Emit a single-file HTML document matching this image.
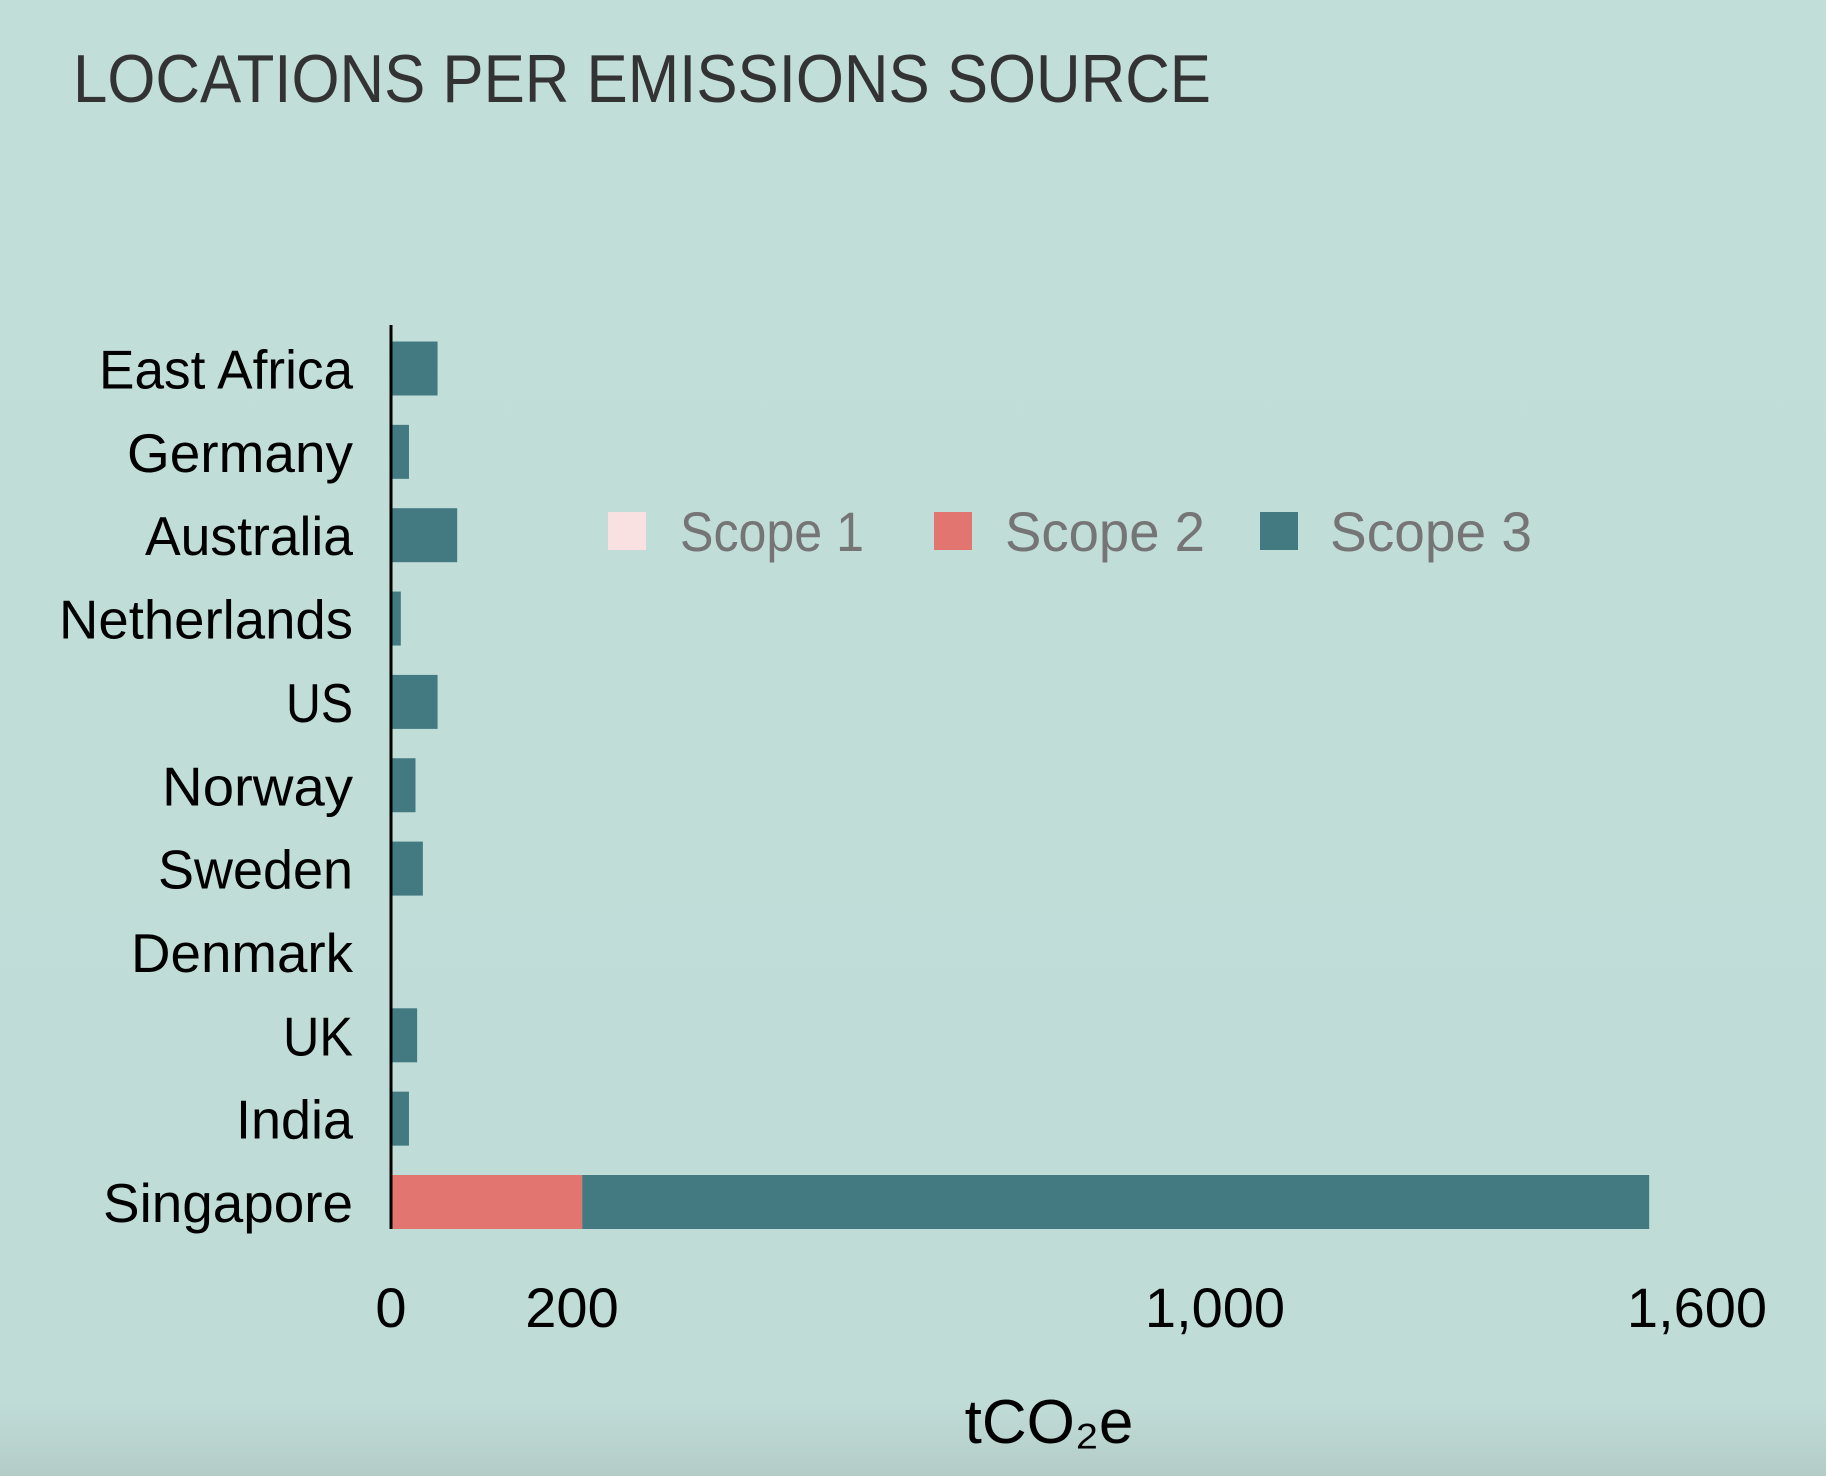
<!DOCTYPE html>
<html><head><meta charset="utf-8"><style>
html,body{margin:0;padding:0}
body{width:1826px;height:1476px;overflow:hidden;background:#c2ded9}
svg{display:block}
text{font-family:"Liberation Sans",sans-serif}
</style></head><body>
<svg id="chart" width="1826" height="1476" viewBox="0 0 1826 1476">
<defs><linearGradient id="bg" x1="0" y1="0" x2="0" y2="1">
<stop offset="0" stop-color="#c2ded9"/><stop offset="0.95" stop-color="#c0dcd7"/><stop offset="1" stop-color="#b4ccc8"/></linearGradient></defs>
<rect x="0" y="0" width="1826" height="1476" fill="url(#bg)"/>
<text x="73" y="102" font-size="68" fill="#333" textLength="1138" lengthAdjust="spacingAndGlyphs">LOCATIONS PER EMISSIONS SOURCE</text>
<g id="legend">
<rect x="608" y="512" width="38" height="38" fill="#fae1e1"/>
<text x="680" y="551" font-size="56" fill="#757575" textLength="184" lengthAdjust="spacingAndGlyphs">Scope 1</text>
<rect x="934" y="512" width="38" height="38" fill="#e27570"/>
<text x="1005" y="551" font-size="56" fill="#757575" textLength="200" lengthAdjust="spacingAndGlyphs">Scope 2</text>
<rect x="1260" y="512" width="38" height="38" fill="#437a82"/>
<text x="1330" y="551" font-size="56" fill="#757575" textLength="202" lengthAdjust="spacingAndGlyphs">Scope 3</text>
</g>
<g id="bars"></g>
<g id="labels"></g>
<g id="ticks"></g>
<line x1="391" y1="325" x2="391" y2="1229" stroke="#000" stroke-width="3"/>
<text x="1049" y="1443" font-size="62" fill="#000" text-anchor="middle">tCO₂e</text>
</svg>
<script>
const categories = ["East Africa","Germany","Australia","Netherlands","US","Norway","Sweden","Denmark","UK","India","Singapore"];
const scope1 = [0,0,0,0,0,0,0,0,0,0,0];
const scope2 = [0,0,0,0,0,0,0,0,0,0,234];
const scope3 = [57,22,81,12,57,30,39,0,32,22,1306];
const tickValues = [0,200,1000,1600];
const tickLabels = ["0","200","1,000","1,600"];
const labelWidths = [254,226,208,294,67,191,195,222,70,117,250];

const NS = "http://www.w3.org/2000/svg";
const x0 = 391, pxPerUnit = 0.817;
function xScale(v){ return x0 + v * pxPerUnit; }
const rowTop = 341.5, rowPitch = 83.35, barH = 54;
function yScale(i){ return rowTop + i * rowPitch; }

const bars = document.getElementById('bars');
const labels = document.getElementById('labels');
const ticks = document.getElementById('ticks');
const series = [[scope1,"#fae1e1","scope-1"],[scope2,"#e27570","scope-2"],[scope3,"#437a82","scope-3"]];

categories.forEach((c,i)=>{
  let acc = 0;
  series.forEach(([arr,col,nm])=>{
    const v = arr[i];
    if (v > 0) {
      const r = document.createElementNS(NS,'rect');
      r.setAttribute('x', xScale(acc));
      r.setAttribute('y', yScale(i));
      r.setAttribute('width', xScale(acc+v) - xScale(acc));
      r.setAttribute('height', barH);
      r.setAttribute('fill', col);
      
      
      bars.appendChild(r);
    }
    acc += v;
  });
  const t = document.createElementNS(NS,'text');
  t.setAttribute('x', 353);
  t.setAttribute('y', yScale(i) + barH/2 + 20);
  t.setAttribute('text-anchor','end');
  t.setAttribute('font-size','55');
  t.setAttribute('fill','#000');
  t.setAttribute('textLength', labelWidths[i]);
  t.setAttribute('lengthAdjust','spacingAndGlyphs');
  t.textContent = c;
  
  
  labels.appendChild(t);
});

const tickPos = {0:391,200:572,1000:1215,1600:1697};
tickValues.forEach((v,i)=>{
  const t = document.createElementNS(NS,'text');
  const px = tickPos[v] !== undefined ? tickPos[v] : xScale(v);
  t.setAttribute('x', px);
  t.setAttribute('y', 1327);
  t.setAttribute('text-anchor','middle');
  t.setAttribute('font-size','56');
  t.setAttribute('fill','#000');
  t.textContent = tickLabels[i];
  
  
  ticks.appendChild(t);
});
</script>
</body></html>
